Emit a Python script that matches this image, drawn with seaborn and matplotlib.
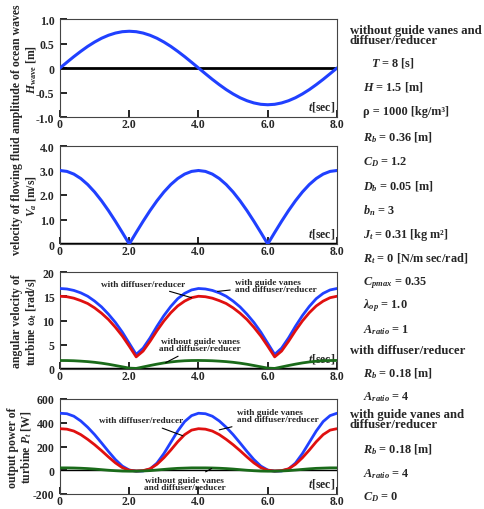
import numpy as np
import pandas as pd
import matplotlib
matplotlib.use("Agg")
import matplotlib.pyplot as plt
import seaborn as sns

# ---------------- data ----------------
t_sec = [0.0, 0.2, 0.4, 0.6, 0.8, 1.0, 1.2, 1.4, 1.6, 1.8, 2.0,
         2.2, 2.4, 2.6, 2.8, 3.0, 3.2, 3.4, 3.6, 3.8, 4.0,
         4.2, 4.4, 4.6, 4.8, 5.0, 5.2, 5.4, 5.6, 5.8, 6.0,
         6.2, 6.4, 6.6, 6.8, 7.0, 7.2, 7.4, 7.6, 7.8, 8.0]

h_wave = [0.0, 0.117, 0.232, 0.340, 0.441, 0.530, 0.607, 0.668, 0.713, 0.741, 0.750,
          0.741, 0.713, 0.668, 0.607, 0.530, 0.441, 0.340, 0.232, 0.117, 0.0,
          -0.117, -0.232, -0.340, -0.441, -0.530, -0.607, -0.668, -0.713, -0.741, -0.750,
          -0.741, -0.713, -0.668, -0.607, -0.530, -0.441, -0.340, -0.232, -0.117, 0.0]

v_fluid = [3.0, 2.963, 2.853, 2.673, 2.427, 2.121, 1.763, 1.362, 0.927, 0.469, 0.0,
           0.469, 0.927, 1.362, 1.763, 2.121, 2.427, 2.673, 2.853, 2.963, 3.0,
           2.963, 2.853, 2.673, 2.427, 2.121, 1.763, 1.362, 0.927, 0.469, 0.0,
           0.469, 0.927, 1.362, 1.763, 2.121, 2.427, 2.673, 2.853, 2.963, 3.0]

omega_guide = [16.6, 16.5, 16.2, 15.7, 15.0, 14.0, 12.8, 11.3, 9.6, 7.6, 5.3,
               3.0, 4.3, 6.4, 8.8, 11.0, 12.9, 14.5, 15.6, 16.3, 16.6,
               16.5, 16.2, 15.7, 15.0, 14.0, 12.8, 11.3, 9.6, 7.6, 5.3,
               3.0, 4.3, 6.4, 8.8, 11.0, 12.9, 14.5, 15.6, 16.3, 16.6]

omega_diff = [15.0, 14.9, 14.6, 14.1, 13.5, 12.6, 11.5, 10.2, 8.6, 6.8, 4.7,
              2.5, 3.7, 5.7, 7.9, 9.9, 11.6, 13.0, 14.0, 14.7, 15.0,
              14.9, 14.6, 14.1, 13.5, 12.6, 11.5, 10.2, 8.6, 6.8, 4.7,
              2.5, 3.7, 5.7, 7.9, 9.9, 11.6, 13.0, 14.0, 14.7, 15.0]

omega_none = [1.75, 1.74, 1.70, 1.62, 1.52, 1.38, 1.20, 0.98, 0.72, 0.45, 0.18,
              0.12, 0.42, 0.72, 1.00, 1.25, 1.45, 1.60, 1.70, 1.75, 1.76,
              1.74, 1.70, 1.62, 1.52, 1.38, 1.20, 0.98, 0.72, 0.45, 0.18,
              0.12, 0.42, 0.72, 1.00, 1.25, 1.45, 1.60, 1.70, 1.75, 1.76]

power_guide = [480, 476, 455, 415, 362, 300, 230, 158, 90, 35, 2,
               -8, -6, 10, 60, 140, 235, 330, 410, 460, 480,
               476, 455, 415, 362, 300, 230, 158, 90, 35, 2,
               -8, -6, 10, 60, 140, 235, 330, 410, 460, 480]

power_diff = [350, 346, 330, 300, 260, 215, 165, 112, 62, 22, 0,
              -6, -3, 12, 50, 105, 170, 240, 300, 338, 350,
              346, 330, 300, 260, 215, 165, 112, 62, 22, 0,
              -6, -3, 12, 50, 105, 170, 240, 300, 338, 350]

power_none = [20, 20, 19, 17, 14, 10, 5, 0, -4, -7, -8,
              -8, -6, -3, 2, 7, 12, 16, 18, 20, 20,
              20, 19, 17, 14, 10, 5, 0, -4, -7, -8,
              -8, -6, -3, 2, 7, 12, 16, 18, 20, 20]

x_ticks = [0, 2, 4, 6, 8]
x_ticklabels = ["0", "2.0", "4.0", "6.0", "8.0"]

y_ticks = [[-1.0, -0.5, 0, 0.5, 1.0], [0, 1, 2, 3, 4], [0, 5, 10, 15, 20], [-200, 0, 200, 400, 600]]
y_ticklabels = [["-1.0", "-0.5", "0", "0.5", "1.0"],
                ["0", "1.0", "2.0", "3.0", "4.0"],
                ["0", "5", "10", "15", "20"],
                ["-200", "0", "200", "400", "600"]]

y_labels = [("amplitude of ocean waves", r"$H_{\mathrm{wave}}$ [m]"),
            ("velocity of flowing fluid", r"$V_{a}$ [m/s]"),
            ("angular velocity of", r"turbine ω$_{t}$ [rad/s]"),
            ("output power of", r"turbine $P_{t}$ [W]")]

series_names = ["with guide vanes and diffuser/reducer",
                "with diffuser/reducer",
                "without guide vanes and diffuser/reducer"]

param_lines = [
    ("head", "without guide vanes and\ndiffuser/reducer"),
    ("p1", r"$T$ = 8 [s]"),
    ("p", r"$H$ = 1.5 [m]"),
    ("p", "ρ = 1000 [kg/m³]"),
    ("p", r"$R_{b}$ = 0.36 [m]"),
    ("p", r"$C_{D}$ = 1.2"),
    ("p", r"$D_{b}$ = 0.05 [m]"),
    ("p", r"$b_{n}$ = 3"),
    ("p", r"$J_{t}$ = 0.31 [kg m²]"),
    ("p", r"$R_{t}$ = 0 [N/m sec/rad]"),
    ("p", r"$C_{pmax}$ = 0.35"),
    ("p", r"$\lambda_{op}$ = 1.0"),
    ("p", r"$A_{ratio}$ = 1"),
    ("head", "with diffuser/reducer"),
    ("p", r"$R_{b}$ = 0.18 [m]"),
    ("p", r"$A_{ratio}$ = 4"),
    ("head", "with guide vanes and\ndiffuser/reducer"),
    ("p", r"$R_{b}$ = 0.18 [m]"),
    ("p", r"$A_{ratio}$ = 4"),
    ("p", r"$C_{D}$ = 0"),
]
param_y = [36, 63, 87, 112, 138, 162, 187, 211, 235, 259, 283, 306, 330,
           351, 374, 397, 420, 450, 474, 497]

# ---------------- style ----------------
sns.set_style("ticks")
plt.rcParams["font.family"] = ["Liberation Serif", "DejaVu Serif"]
plt.rcParams["font.weight"] = "bold"
plt.rcParams["mathtext.fontset"] = "custom"
plt.rcParams["mathtext.rm"] = "Liberation Serif:bold"
plt.rcParams["mathtext.it"] = "Liberation Serif:italic:bold"
plt.rcParams["mathtext.bf"] = "Liberation Serif:bold"

W, H = 485, 510
fig = plt.figure(figsize=(W / 100, H / 100), dpi=100)

panel_px = [(20, 118), (147, 245), (273, 370), (400, 495)]
label_x = [(17, 32), (17, 32), (17, 32), (13, 27)]
x0, x1 = 60, 337

colors = {series_names[0]: "#2040ff", series_names[1]: "#e01010", series_names[2]: "#1a6b1a"}

axes = []
for i, (top, bot) in enumerate(panel_px):
    ax = fig.add_axes([x0 / W, 1 - bot / H, (x1 - x0) / W, (bot - top) / H])
    axes.append(ax)
    ax.set_xlim(0, 8)
    ax.set_ylim(y_ticks[i][0], y_ticks[i][-1])
    ax.set_xticks(x_ticks)
    ax.set_xticklabels(x_ticklabels)
    ax.set_yticks(y_ticks[i])
    ax.set_yticklabels(y_ticklabels[i])
    ax.tick_params(direction="in", length=5, width=1.2, labelsize=8.5,
                   color="black", top=False, right=False)
    ax.tick_params(axis="x", pad=1)
    ax.tick_params(axis="y", pad=4)
    for lab in ax.get_xticklabels() + ax.get_yticklabels():
        lab.set_fontweight("bold")
    for s in ax.spines.values():
        s.set_linewidth(0.8)
        s.set_color("#444444")
    ax.text(0.995, 0.04, r"$t$[sec]", transform=ax.transAxes, ha="right", va="bottom",
            fontsize=8.5, fontweight="bold")
    yc = 1 - (top + bot) / 2 / H
    fig.text(label_x[i][0] / W, yc, y_labels[i][0], rotation=90, ha="center", va="center",
             fontsize=8.5, fontweight="bold")
    fig.text(label_x[i][1] / W, yc, y_labels[i][1], rotation=90, ha="center", va="center",
             fontsize=8.5, fontweight="bold")

# panel 1
df1 = pd.DataFrame({"t": t_sec, "h": h_wave})
axes[0].axhline(0, color="black", lw=2, zorder=1)
sns.lineplot(data=df1, x="t", y="h", ax=axes[0], color="#2040ff", lw=2.2, zorder=3)

# panel 2
df2 = pd.DataFrame({"t": t_sec, "v": v_fluid})
axes[1].axhline(0, color="black", lw=2.5, zorder=1)
sns.lineplot(data=df2, x="t", y="v", ax=axes[1], color="#2040ff", lw=2.2, zorder=3)

# panel 3
n = len(t_sec)
df3 = pd.DataFrame({
    "t": t_sec * 3,
    "omega": omega_guide + omega_diff + omega_none,
    "case": [series_names[0]] * n + [series_names[1]] * n + [series_names[2]] * n,
})
axes[2].axhline(0, color="black", lw=2.5, zorder=1)
sns.lineplot(data=df3, x="t", y="omega", hue="case", palette=colors, ax=axes[2],
             lw=2.0, legend=False, zorder=3)

# panel 4
df4 = pd.DataFrame({
    "t": t_sec * 3,
    "p": power_guide + power_diff + power_none,
    "case": [series_names[0]] * n + [series_names[1]] * n + [series_names[2]] * n,
})
axes[3].axhline(0, color="black", lw=1.0, zorder=1)
sns.lineplot(data=df4, x="t", y="p", hue="case", palette=colors, ax=axes[3],
             lw=2.0, legend=False, zorder=3)
for ax in axes:
    ax.set_xlabel("")
    ax.set_ylabel("")

ann_kw = dict(fontsize=6.7, fontweight="bold", textcoords="data",
              arrowprops=dict(arrowstyle="-", color="black", lw=0.8, shrinkA=1, shrinkB=0))

# panel 3 annotations
axes[2].annotate("with diffuser/reducer", xy=(3.80, 14.7), xytext=(2.4, 17.6),
                 ha="center", va="center", **ann_kw)
axes[2].annotate("with guide vanes\nand diffuser/reducer", xy=(4.55, 16.0), xytext=(5.05, 17.3),
                 ha="left", va="center", linespacing=0.85, **ann_kw)
axes[2].annotate("without guide vanes\nand diffuser/reducer", xy=(3.05, 1.3), xytext=(4.05, 5.0),
                 ha="center", va="center", linespacing=0.85, **ann_kw)

# panel 4 annotations
axes[3].annotate("with diffuser/reducer", xy=(3.55, 290), xytext=(2.35, 420),
                 ha="center", va="center", **ann_kw)
axes[3].annotate("with guide vanes\nand diffuser/reducer", xy=(4.6, 340), xytext=(5.1, 460),
                 ha="left", va="center", linespacing=0.85, **ann_kw)
axes[3].annotate("without guide vanes\nand diffuser/reducer", xy=(4.38, 15), xytext=(3.6, -110),
                 ha="center", va="center", linespacing=0.85, **ann_kw)

# right-hand parameter column
for (kind, txt), yp in zip(param_lines, param_y):
    if kind == "head":
        fig.text(350 / W, 1 - yp / H, txt, ha="left", va="center", fontsize=9.2,
                 fontweight="bold", linespacing=0.85)
    elif kind == "p1":
        fig.text(371 / W, 1 - yp / H, txt, ha="left", va="center", fontsize=8.8, fontweight="bold")
    else:
        fig.text(363 / W, 1 - yp / H, txt, ha="left", va="center", fontsize=8.8, fontweight="bold")

fig.savefig("out.png", dpi=100)
